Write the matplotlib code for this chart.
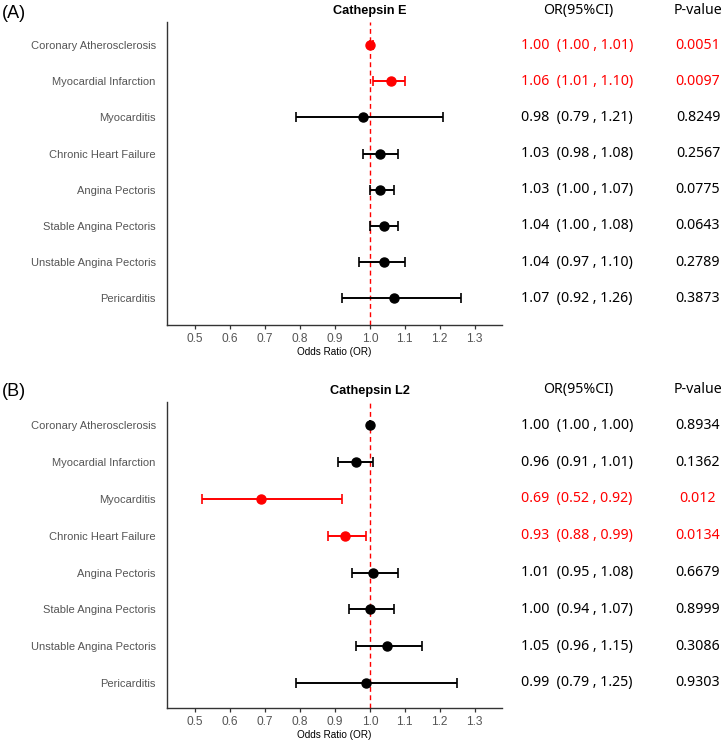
import matplotlib.pyplot as plt
from matplotlib.transforms import blended_transform_factory

# --- data ---
outcomes = ["Coronary Atherosclerosis", "Myocardial Infarction", "Myocarditis",
            "Chronic Heart Failure", "Angina Pectoris", "Stable Angina Pectoris",
            "Unstable Angina Pectoris", "Pericarditis"]

panels = ["(A)", "(B)"]
titles = ["Cathepsin E", "Cathepsin L2"]

or_e = [1.00, 1.06, 0.98, 1.03, 1.03, 1.04, 1.04, 1.07]
lo_e = [1.00, 1.01, 0.79, 0.98, 1.00, 1.00, 0.97, 0.92]
hi_e = [1.01, 1.10, 1.21, 1.08, 1.07, 1.08, 1.10, 1.26]
p_e = ["0.0051", "0.0097", "0.8249", "0.2567", "0.0775", "0.0643", "0.2789", "0.3873"]

or_l2 = [1.00, 0.96, 0.69, 0.93, 1.01, 1.00, 1.05, 0.99]
lo_l2 = [1.00, 0.91, 0.52, 0.88, 0.95, 0.94, 0.96, 0.79]
hi_l2 = [1.00, 1.01, 0.92, 0.99, 1.08, 1.07, 1.15, 1.25]
p_l2 = ["0.8934", "0.1362", "0.012", "0.0134", "0.6679", "0.8999", "0.3086", "0.9303"]

ticks = [0.5, 0.6, 0.7, 0.8, 0.9, 1.0, 1.1, 1.2, 1.3]

# --- figure ---
fig = plt.figure(figsize=(7.25, 7.4), dpi=100)
ax_a = fig.add_axes([0.2303, 0.5608, 0.4621, 0.4095])
ax_b = fig.add_axes([0.2303, 0.0432, 0.4621, 0.4135])

label_font = "Liberation Sans"
table_font = ["Noto Sans", "DejaVu Sans"]

datasets = [(ax_a, or_e, lo_e, hi_e, p_e, (0.26, 8.64)),
            (ax_b, or_l2, lo_l2, hi_l2, p_l2, (0.32, 8.63))]

for i, (ax, est, lo, hi, pv, ylim) in enumerate(datasets):
    n = len(outcomes)
    ys = list(range(n, 0, -1))
    for y, e, l, h, p in zip(ys, est, lo, hi, pv):
        col = "red" if float(p) < 0.05 else "black"
        ax.errorbar(e, y, xerr=[[e - l], [h - e]], fmt="o", color=col,
                    ecolor=col, markersize=6.5, elinewidth=1.4, capsize=3.5,
                    capthick=1.2, zorder=3)
    ax.axvline(1.0, color="red", linestyle=(0, (3.5, 2.5)), linewidth=1.0, zorder=1)

    ax.set_xlim(0.42, 1.378)
    ax.set_ylim(*ylim)
    ax.set_xticks(ticks)
    ax.set_xticklabels([f"{t:.1f}" for t in ticks], family=label_font,
                       fontsize=8.6, color="#555555")
    ax.set_yticks(ys)
    ax.set_yticklabels(outcomes, family=label_font, fontsize=8.0, color="#555555")
    ax.tick_params(axis="y", length=0, pad=8)
    ax.tick_params(axis="x", length=3, width=0.9, color="#333333", pad=3)
    ax.spines["top"].set_visible(False)
    ax.spines["right"].set_visible(False)
    for s in ["left", "bottom"]:
        ax.spines[s].set_color("#333333")
        ax.spines[s].set_linewidth(1.0)
    ax.set_xlabel("Odds Ratio (OR)", family=label_font, fontsize=7.2, labelpad=1)

    # title
    trans = blended_transform_factory(ax.transData, ax.transAxes)
    ax.text(1.0, 1.035, titles[i], transform=trans, ha="center", va="center",
            family=label_font, fontweight="bold", fontsize=9.2)

    # table
    tt = blended_transform_factory(fig.transFigure, ax.transData)
    header_y = 8.96
    ax.text(578 / 725, header_y, "OR(95%CI)", transform=tt, ha="center",
            va="center", family=table_font, fontsize=10.2, clip_on=False)
    ax.text(698 / 725, header_y, "P-value", transform=tt, ha="center",
            va="center", family=table_font, fontsize=10.2, clip_on=False)
    for y, e, l, h, p in zip(ys, est, lo, hi, pv):
        col = "red" if float(p) < 0.05 else "black"
        ax.text(577 / 725, y, f"{e:.2f}  ({l:.2f} , {h:.2f})", transform=tt,
                ha="center", va="center", family=table_font, fontsize=10.2,
                color=col, clip_on=False)
        ax.text(698 / 725, y, p, transform=tt, ha="center", va="center",
                family=table_font, fontsize=10.2, color=col, clip_on=False)

fig.text(0.003, 1 - 13 / 740, panels[0], ha="left", va="center",
         family=label_font, fontsize=13)
fig.text(0.003, 1 - 391 / 740, panels[1], ha="left", va="center",
         family=label_font, fontsize=13)

fig.savefig("out.png", dpi=100)
